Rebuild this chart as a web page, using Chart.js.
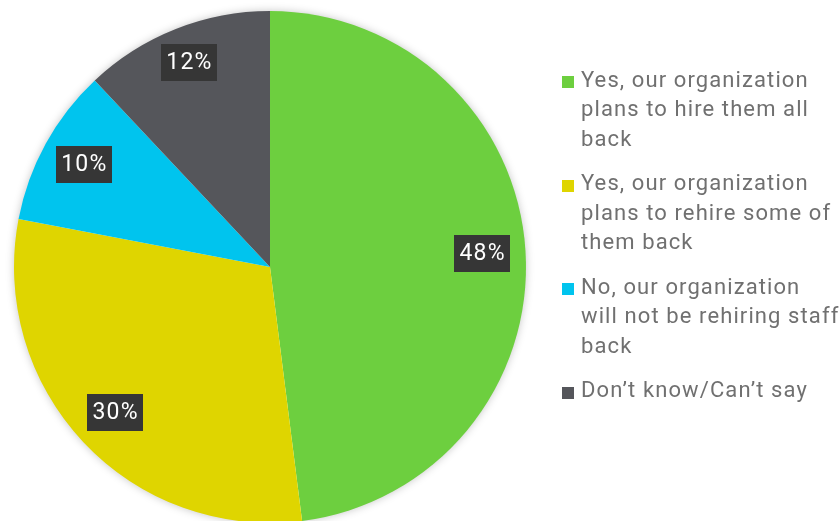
<!DOCTYPE html>
<html>
<head>
<meta charset="utf-8">
<style>
  html, body { margin: 0; padding: 0; background: #ffffff; overflow: hidden; }
  #wrap { position: relative; width: 840px; height: 535px; }
</style>
<script src="https://cdn.jsdelivr.net/npm/chart.js@4/dist/chart.umd.min.js"></script>
</head>
<body>
<div id="wrap"><canvas id="pie" width="840" height="535"></canvas></div>
<script>
// Survey answers: will the organization rehire staff?
const categories = [
  ['Yes, our organization', 'plans to hire them all', 'back'],
  ['Yes, our organization', 'plans to rehire some of', 'them back'],
  ['No, our organization', 'will not be rehiring staff', 'back'],
  ['Don\u2019t know/Can\u2019t say']
];
const shares = [48, 30, 10, 12];
const sliceColors = ['#6dcf3f', '#dfd500', '#00c4ee', '#55565b'];

const FONT = 'Roboto, "Open Sans", sans-serif';

// Soft halo behind the pie
const pieShadow = {
  id: 'pieShadow',
  beforeDatasetsDraw(chart) {
    const arc = chart.getDatasetMeta(0).data[0];
    if (!arc) return;
    const ctx = chart.ctx;
    ctx.save();
    ctx.beginPath();
    ctx.arc(arc.x, arc.y, arc.outerRadius - 1, 0, Math.PI * 2);
    ctx.shadowColor = 'rgba(0,0,0,0.28)';
    ctx.shadowBlur = 10;
    ctx.fillStyle = '#ffffff';
    ctx.fill();
    ctx.restore();
  }
};

// Percentage tags placed on each slice
const sliceTags = {
  id: 'sliceTags',
  afterDatasetsDraw(chart) {
    const ctx = chart.ctx;
    const meta = chart.getDatasetMeta(0);
    const values = chart.data.datasets[0].data;
    ctx.save();
    ctx.font = '23px ' + FONT;
    ctx.letterSpacing = '1.2px';
    ctx.textAlign = 'center';
    ctx.textBaseline = 'middle';
    meta.data.forEach((arc, i) => {
      const mid = (arc.startAngle + arc.endAngle) / 2;
      const r = arc.outerRadius * (i === 3 ? 0.86 : 0.83);
      const x = arc.x + Math.cos(mid) * r;
      const y = arc.y + Math.sin(mid) * r;
      const text = values[i] + '%';
      const w = ctx.measureText(text).width + 10;
      const h = 37;
      ctx.fillStyle = '#363636';
      ctx.fillRect(Math.round(x - w / 2), Math.round(y - h / 2), Math.round(w), h);
      ctx.fillStyle = '#ffffff';
      ctx.fillText(text, x + 0.5, y + 1);
    });
    ctx.restore();
  }
};

// Legend with wrapped labels on the right
const sideLegend = {
  id: 'sideLegend',
  afterDraw(chart) {
    const ctx = chart.ctx;
    const labels = chart.data.labels;
    const colors = chart.data.datasets[0].backgroundColor;
    const lineH = 29.5;
    let y = 81;
    ctx.save();
    ctx.font = '22px ' + FONT;
    ctx.letterSpacing = '1.1px';
    ctx.textAlign = 'left';
    ctx.textBaseline = 'middle';
    labels.forEach((lines, i) => {
      ctx.fillStyle = colors[i];
      ctx.fillRect(562, Math.round(y - 5), 12, 12);
      ctx.fillStyle = '#707070';
      lines.forEach((line, j) => ctx.fillText(line, 581, y + j * lineH));
      y += lines.length * lineH + 15;
    });
    ctx.restore();
  }
};

new Chart(document.getElementById('pie'), {
  type: 'pie',
  data: {
    labels: categories,
    datasets: [{
      data: shares,
      backgroundColor: sliceColors,
      borderWidth: 0
    }]
  },
  options: {
    responsive: false,
    animation: false,
    layout: { padding: { left: 14, right: 314, top: 11, bottom: 12 } },
    plugins: {
      legend: { display: false },
      tooltip: { enabled: false }
    }
  },
  plugins: [pieShadow, sliceTags, sideLegend]
});
</script>
</body>
</html>
